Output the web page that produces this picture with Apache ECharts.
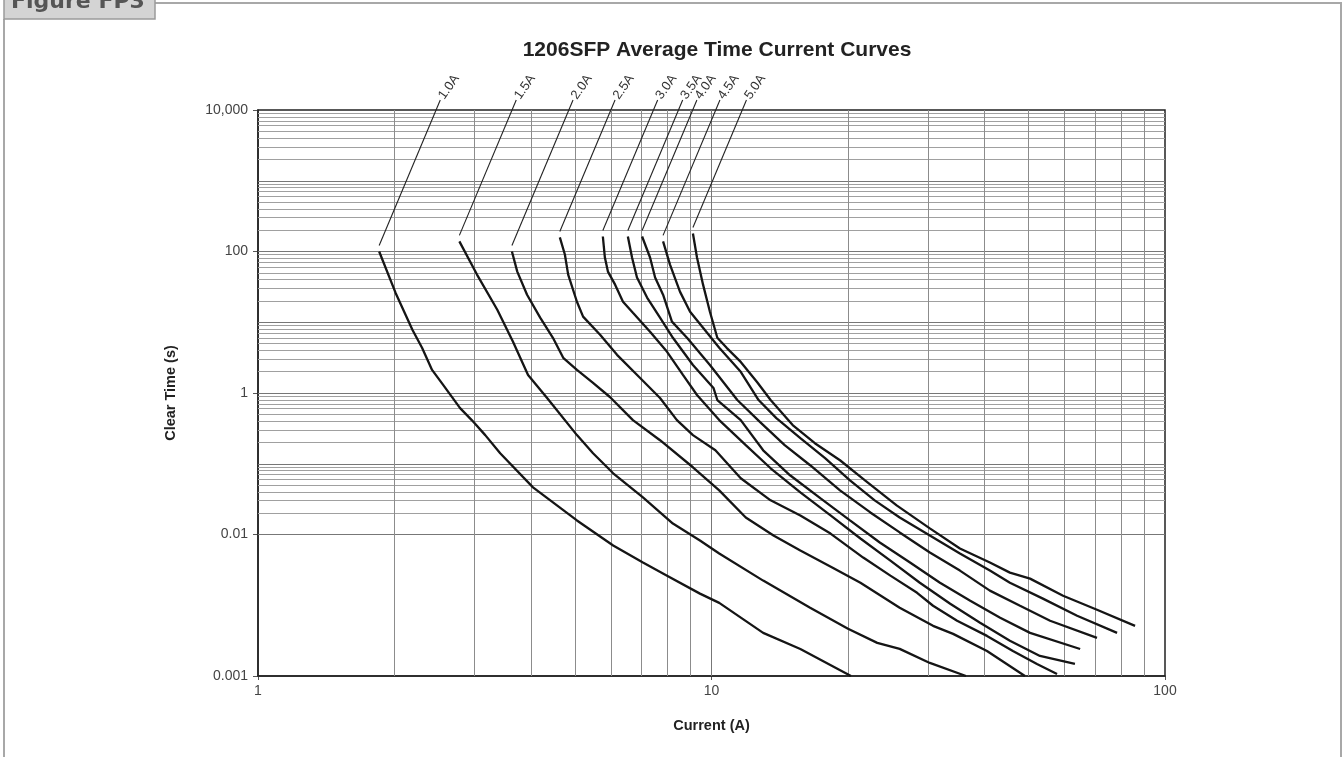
<!DOCTYPE html>
<html><head><meta charset="utf-8">
<script src="https://cdn.jsdelivr.net/npm/echarts@6/dist/echarts.min.js"></script>
<style>html,body{margin:0;padding:0;background:#fff}#c{width:1344px;height:757px}</style>
</head><body><div id="c"></div>
<script>
// ---- data: [current (A), clear time (s)] ----
const names = ['1.0A','1.5A','2.0A','2.5A','3.0A','3.5A','4.0A','4.5A','5.0A'];
const c10 = [[1.85,100],[2.01,26.2],[2.19,7.83],[2.30,4.35],[2.42,2.12],[2.56,1.30],[2.79,0.612],[2.96,0.414],[3.17,0.254],[3.42,0.141],[4.04,0.0464],[5.05,0.0158],[6.07,0.00699],[7.06,0.00401],[7.98,0.00262],[9.43,0.00146],[10.4,0.00108],[13.0,0.000407],[15.7,0.000241],[20.3,0.0001]];
const c15 = [[2.78,139],[3.04,47.2],[3.37,15.0],[3.65,5.29],[3.94,1.80],[4.34,0.849],[5.05,0.254],[5.48,0.141],[6.07,0.0733],[7.06,0.0335],[8.22,0.0143],[9.43,0.00822],[10.4,0.00538],[13.0,0.00223],[16.5,0.000922],[20.0,0.000465],[23.2,0.000294],[26.0,0.000242],[30.3,0.000153],[36.4,0.0001]];
const c20 = [[3.63,100],[3.73,52.0],[3.92,24.5],[4.19,11.6],[4.47,6.03],[4.71,3.14],[5.05,2.12],[5.48,1.39],[5.97,0.878],[6.71,0.414],[7.70,0.215],[9.10,0.0892],[10.4,0.0421],[11.9,0.0174],[13.7,0.00968],[15.7,0.00593],[18.5,0.00340],[21.3,0.00208],[26.0,0.000922],[30.8,0.000512],[34.1,0.000394],[40.5,0.000226],[49.1,0.0001]];
const c25 = [[4.63,158],[4.75,90.6],[4.83,47.2],[5.05,19.5],[5.21,12.0],[5.68,6.65],[6.19,3.46],[6.96,1.63],[7.70,0.849],[8.39,0.414],[9.10,0.254],[10.2,0.155],[11.6,0.0623],[13.5,0.0304],[15.7,0.0186],[18.3,0.0103],[21.6,0.00472],[24.8,0.00262],[28.4,0.00150],[30.8,0.000984],[34.8,0.000603],[40.5,0.000369],[46.2,0.000226],[52.2,0.000148],[57.8,0.000107]];
const c30 = [[5.76,163],[5.82,82.2],[5.91,52.0],[6.13,34.0],[6.38,19.5],[6.71,13.6],[7.32,7.33],[7.98,3.82],[8.65,1.80],[9.29,0.937],[10.4,0.414],[11.9,0.183],[13.5,0.0863],[15.7,0.0394],[18.3,0.0186],[21.3,0.00877],[24.8,0.00428],[28.8,0.00208],[33.6,0.00105],[39.1,0.000565],[45.5,0.000314],[53.0,0.000192],[63.3,0.000148]];
const c35 = [[6.54,163],[6.68,82.2],[6.85,42.8],[7.21,22.3],[7.70,11.6],[8.22,6.03],[9.10,2.49],[10.1,1.18],[10.3,0.796],[11.6,0.414],[13.0,0.155],[14.9,0.0687],[17.4,0.0324],[20.2,0.0158],[23.5,0.00770],[27.4,0.00401],[31.9,0.00208],[37.2,0.00116],[43.3,0.000665],[50.4,0.000407],[65.0,0.000241]];
const c40 = [[7.03,163],[7.32,82.2],[7.51,42.8],[7.82,24.5],[8.18,10.2],[8.83,6.03],[9.92,2.49],[11.4,0.796],[12.8,0.388],[14.5,0.183],[16.5,0.0953],[19.2,0.0421],[22.4,0.0205],[26.0,0.0107],[30.3,0.00556],[35.3,0.00309],[41.1,0.00161],[47.9,0.000984],[55.8,0.000603],[70.8,0.000346]];
const c45 = [[7.82,139],[8.10,65.4],[8.52,27.1],[8.97,14.1],[9.58,8.36],[10.4,4.35],[11.6,1.99],[12.7,0.796],[13.9,0.442],[15.7,0.230],[17.8,0.120],[20.2,0.0583],[22.9,0.0304],[26.0,0.0174],[30.3,0.00968],[35.3,0.00538],[41.1,0.00309],[45.5,0.00208],[53.8,0.00124],[64.0,0.000710],[78.4,0.000407]];
const c50 = [[9.10,180],[9.29,82.2],[9.58,34.0],[9.92,14.1],[10.3,6.03],[10.8,4.35],[11.6,2.75],[12.6,1.43],[13.5,0.796],[15.1,0.352],[16.9,0.195],[19.2,0.112],[21.8,0.0583],[25.6,0.0258],[30.3,0.0122],[35.3,0.00633],[41.1,0.00401],[45.5,0.00289],[50.4,0.00238],[59.6,0.00136],[70.8,0.000863],[85.9,0.000512]];
const curves = [c10,c15,c20,c25,c30,c35,c40,c45,c50];
const yTickLabels = {'-4':'0.001','-2':'0.01','0':'1','2':'100','4':'10,000'};
const xTickLabels = {'0':'1','1':'10','2':'100'};

// grid-line values (axis structure)
const yMinor=[], yMajor=[], xMinor=[], xMajor=[];
for(let e=-4;e<=3;e++){ for(let k=1;k<=9;k++){ const v=k*Math.pow(10,e); (k===1?yMajor:yMinor).push(+v.toPrecision(3)); } }
for(let e=0;e<=1;e++){ for(let k=2;k<=9;k++){ xMinor.push(k*Math.pow(10,e)); } }
xMajor.push(10);

const FONT = 'Liberation Sans, Arial, Helvetica, sans-serif';
const chart = echarts.init(document.getElementById('c'));

const gridSeries = {
  type:'line', data:[], silent:true, z:1,
  markLine:{ silent:true, symbol:['none','none'], animation:false, label:{show:false},
    data:[].concat(
      yMinor.map(v=>({yAxis:v, lineStyle:{color:'#a0a0a0',width:1,type:'solid'}})),
      yMajor.slice(1).map(v=>({yAxis:v, lineStyle:{color:'#777',width:1,type:'solid'}})),
      xMinor.map(v=>({xAxis:v, lineStyle:{color:'#8c8c8c',width:1,type:'solid'}})),
      xMajor.map(v=>({xAxis:v, lineStyle:{color:'#777',width:1,type:'solid'}}))
    )}
};

chart.setOption({
  animation:false,
  backgroundColor:'#fff',
  title:{text:'1206SFP Average Time Current Curves', left:712, top:35, textAlign:'center',
    textStyle:{fontFamily:FONT, fontWeight:'bold', fontSize:21, color:'#222'}},
  grid:{left:258, right:179, top:110, bottom:81, show:true, borderColor:'#222', borderWidth:1.5, backgroundColor:'transparent', z:3},
  xAxis:{type:'log', logBase:10, min:1, max:100, interval:1,
    name:'Current (A)', nameLocation:'middle', nameGap:42,
    nameTextStyle:{fontFamily:FONT, fontWeight:'bold', fontSize:14.5, color:'#222'},
    axisLine:{show:true, lineStyle:{color:'#222', width:1.5}},
    axisTick:{show:true, length:4, lineStyle:{color:'#555'}},
    axisLabel:{margin:8, fontFamily:FONT, fontSize:14, color:'#444',
      formatter:v=>xTickLabels[String(Math.round(Math.log10(v)))]||''},
    splitLine:{show:false}},
  yAxis:[
    {type:'log', logBase:10, min:0.0001, max:10000, interval:2,
     name:'Clear Time (s)', nameLocation:'middle', nameGap:80, nameRotate:90,
     nameTextStyle:{fontFamily:FONT, fontWeight:'bold', fontSize:14.5, color:'#222'},
     axisLine:{show:true, lineStyle:{color:'#222', width:1.5}},
     axisTick:{show:true, length:5, lineStyle:{color:'#555'}},
     axisLabel:{margin:10, fontFamily:FONT, fontSize:14, color:'#444',
       formatter:v=>yTickLabels[String(Math.round(Math.log10(v)))]||''},
     splitLine:{show:false}}
  ],
  series:[gridSeries].concat(curves.map((d,i)=>({
    name:names[i], type:'line', data:d, showSymbol:false, symbol:'none', z:5,
    lineStyle:{color:'#151515', width:2.3}, clip:true
  })))
});

// frame, figure tab, leader lines and curve labels
const g = [
  {type:'polyline', shape:{points:[[4,19],[4,760]]}, style:{stroke:'#a8a8a8', lineWidth:2}, silent:true},
  {type:'polyline', shape:{points:[[155,3],[1341,3],[1341,760]]}, style:{stroke:'#a8a8a8', lineWidth:2}, silent:true},
  {type:'rect', shape:{x:4,y:-6,width:151,height:25}, style:{fill:'#d4d4d4', stroke:'#9a9a9a', lineWidth:1.5}, silent:true},
  {type:'text', x:11, y:2, style:{text:'Figure FP3', font:'bold 22px DejaVu Sans, Verdana, sans-serif', fill:'#555', textAlign:'left', textVerticalAlign:'middle'}, silent:true}
];
curves.forEach((d,i)=>{
  const p = chart.convertToPixel({xAxisIndex:0, yAxisIndex:0}, d[0]);
  const x0 = p[0], y0 = p[1]-6, yTop = 100;
  const x1 = x0 + 0.42*(y0-yTop);
  g.push({type:'line', shape:{x1:x0, y1:y0, x2:x1, y2:yTop}, style:{stroke:'#222', lineWidth:1.1}, z:10, silent:true});
  g.push({type:'text', x:x1+1, y:yTop-2, rotation:55*Math.PI/180, z:10, silent:true,
    style:{text:names[i], font:'13px '+FONT, fill:'#333', textAlign:'left', textVerticalAlign:'middle'}});
});
chart.setOption({graphic:g});
</script></body></html>
